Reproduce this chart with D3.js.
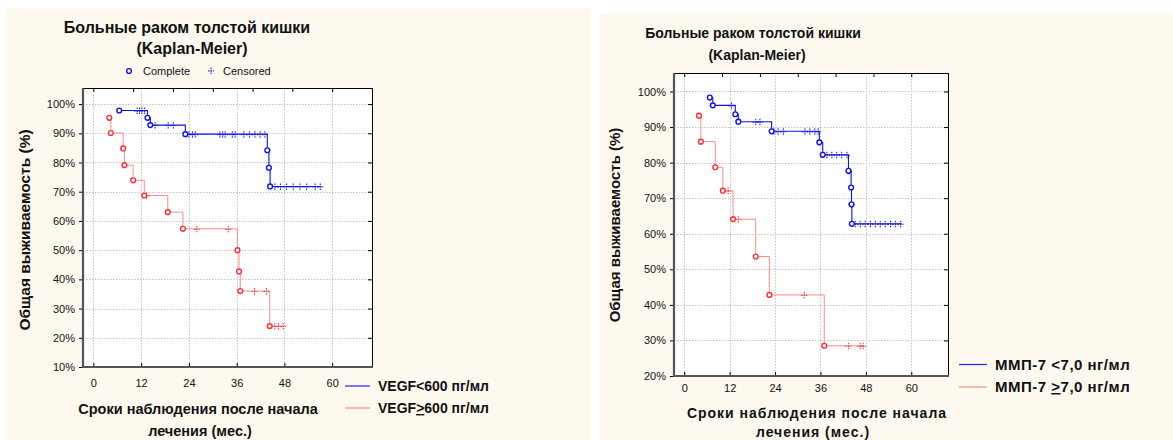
<!DOCTYPE html>
<html><head><meta charset="utf-8">
<script src="https://cdn.jsdelivr.net/npm/d3@7"></script>
<style>
html,body{margin:0;padding:0;background:#fff;}
svg{display:block;font-family:"Liberation Sans",Arial,sans-serif;}
</style></head>
<body>
<svg id="c" width="1173" height="440"></svg>
<script>
// ---------- data ----------
const chartTitle = ["Больные раком толстой кишки", "(Kaplan-Meier)"];
const yAxisTitle = "Общая выживаемость (%)";
const xAxisTitle = ["Сроки наблюдения после начала", "лечения (мес.)"];
const xTicks = [0, 12, 24, 36, 48, 60];
const topTicks = [0, 10, 20, 30, 40, 50, 60];
const leftYTicks = [10, 20, 30, 40, 50, 60, 70, 80, 90, 100];
const rightYTicks = [20, 30, 40, 50, 60, 70, 80, 90, 100];
const markerLegend = ["Complete", "Censored"];

// Left chart: VEGF
const vegfLowLabel = ["VEGF<600 пг/мл"];
const vegfHighLabel = ["VEGF", ">", "600  пг/мл"];
const vegfLowEventT = [6.5, 13.6, 14.3, 23.1, 43.7, 44.1, 44.4];
const vegfLowEventS = [97.8, 95.3, 92.8, 89.7, 84.2, 78.2, 71.8];
const vegfLowCensT = [11.0, 11.6, 12.2, 12.9, 15.5, 18.8, 20.1, 24.0, 24.9, 25.6, 31.8, 32.5, 33.1, 34.9, 35.6, 37.8, 39.2, 40.6, 41.9, 43.1, 45.6, 47.0, 48.5, 50.2, 51.9, 53.6, 55.7, 57.0];
const vegfLowEnd = 57.3;
const vegfHighEventT = [4.0, 4.4, 7.5, 7.8, 10.0, 12.8, 18.7, 22.5, 36.2, 36.6, 36.9, 44.3];
const vegfHighEventS = [95.3, 90.1, 84.8, 79.1, 73.9, 68.7, 63.0, 57.3, 50.0, 42.7, 36.0, 24.0];
const vegfHighCensT = [13.4, 26.0, 33.9, 40.5, 43.5, 45.6, 46.5, 47.7];
const vegfHighEnd = 48.0;

// Right chart: MMP-7
const mmpLowLabel = ["ММП-7 <7,0 нг/мл"];
const mmpHighLabel = ["ММП-7 ", ">", "7,0 нг/мл"];
const mmpLowEventT = [6.75, 7.55, 13.5, 14.3, 23.1, 35.7, 36.6, 43.4, 44.1, 44.2, 44.3];
const mmpLowEventS = [98.3, 96.1, 93.6, 91.5, 88.8, 85.7, 82.2, 77.7, 73.0, 68.3, 62.8];
const mmpLowCensT = [12.5, 18.9, 20.0, 23.7, 24.8, 26.2, 31.9, 33.2, 34.5, 35.4, 37.7, 39.0, 40.3, 41.6, 43.0, 43.6, 44.25, 45.2, 46.5, 47.8, 49.2, 50.5, 51.8, 53.1, 54.5, 55.8, 57.2];
const mmpLowEnd = 57.5;
const mmpHighEventT = [3.9, 4.4, 8.2, 10.2, 12.9, 18.9, 22.5, 37.0];
const mmpHighEventS = [93.2, 85.9, 78.7, 72.1, 64.1, 53.6, 42.8, 28.5];
const mmpHighCensT = [11.6, 14.3, 31.7, 43.4, 46.5, 47.3];
const mmpHighEnd = 47.8;

// ---------- drawing ----------
const svg = d3.select("#c");
const BG = "#fdf9ee";
const BLUE = "#1010f0";
const RED = "#ff3030";
const REDLINE = "#ff8a8a";

function survAt(T, S, t) {
  let s = S[0];
  for (let i = 0; i < T.length; i++) if (T[i] <= t) s = S[i];
  return s;
}

function censorMark(g, x, y, color) {
  g.append("line").attr("x1", x).attr("x2", x).attr("y1", y - 3).attr("y2", y + 4)
    .attr("stroke", color).attr("stroke-width", 1).attr("stroke-dasharray", "1.5,1");
  g.append("line").attr("x1", x - 3).attr("x2", x + 3).attr("y1", y + 0.5).attr("y2", y + 0.5)
    .attr("stroke", color).attr("stroke-width", 1).attr("stroke-dasharray", "1.5,1");
}

function drawChart(cfg) {
  const g = svg.append("g");
  g.append("rect").attr("x", cfg.panel[0]).attr("y", cfg.panel[1])
    .attr("width", cfg.panel[2]).attr("height", cfg.panel[3]).attr("fill", BG);

  const x = d3.scaleLinear().domain(cfg.xDom).range([cfg.left, cfg.right]);
  const y = d3.scaleLinear().domain(cfg.yDom).range([cfg.bottom, cfg.top]);

  g.append("rect").attr("x", cfg.left).attr("y", cfg.top)
    .attr("width", cfg.right - cfg.left).attr("height", cfg.bottom - cfg.top).attr("fill", "#fff");

  // grid
  const grid = g.append("g").attr("stroke", "#c4c4c4").attr("stroke-width", 1).attr("stroke-dasharray", "1.5,1.5");
  cfg.yTicks.forEach(v => {
    if (v === cfg.yDom[0]) return;
    grid.append("line").attr("x1", cfg.left).attr("x2", cfg.right)
      .attr("y1", Math.round(y(v)) + 0.5).attr("y2", Math.round(y(v)) + 0.5);
  });
  xTicks.forEach(v => {
    grid.append("line").attr("y1", cfg.top).attr("y2", cfg.bottom)
      .attr("x1", Math.round(x(v)) + 0.5).attr("x2", Math.round(x(v)) + 0.5);
  });

  // frame (top/right thin black)
  g.append("line").attr("x1", cfg.left).attr("x2", cfg.right).attr("y1", cfg.top + 0.5).attr("y2", cfg.top + 0.5).attr("stroke", "#000");
  g.append("line").attr("x1", cfg.right + 0.5).attr("x2", cfg.right + 0.5).attr("y1", cfg.top).attr("y2", cfg.bottom).attr("stroke", "#000");

  // top ticks (inward)
  const topAxis = d3.axisTop(x).tickValues(topTicks).tickSize(-4).tickFormat("");
  g.append("g").attr("transform", `translate(0,${cfg.top})`).call(topAxis)
    .call(a => a.select(".domain").remove()).selectAll("line").attr("stroke", "#000");
  // right ticks (inward)
  const rightAxis = d3.axisRight(y).tickValues(cfg.yTicks).tickSize(-4).tickFormat("");
  g.append("g").attr("transform", `translate(${cfg.right},0)`).call(rightAxis)
    .call(a => a.select(".domain").remove()).selectAll("line").attr("stroke", "#000");

  // bottom axis
  const bAxis = d3.axisBottom(x).tickValues(xTicks).tickSize(-4).tickPadding(cfg.xTickPad).tickFormat(d3.format("d"));
  const bg = g.append("g").attr("transform", `translate(0,${cfg.bottom})`).call(bAxis);
  bg.select(".domain").remove();
  bg.selectAll("line").attr("stroke", "#000");
  bg.selectAll("text").attr("font-size", 11).attr("fill", "#111").attr("font-family", "Liberation Sans, Arial, sans-serif");

  // left axis
  const lAxis = d3.axisLeft(y).tickValues(cfg.yTicks).tickSize(4).tickPadding(cfg.yTickPad).tickFormat(d => d + "%");
  const lg = g.append("g").attr("transform", `translate(${cfg.left},0)`).call(lAxis);
  lg.select(".domain").remove();
  lg.selectAll("line").attr("stroke", "#000");
  lg.selectAll("text").attr("font-size", 11).attr("fill", "#111").attr("font-family", "Liberation Sans, Arial, sans-serif");

  // thick axis lines
  g.append("line").attr("x1", cfg.left).attr("x2", cfg.left).attr("y1", cfg.top).attr("y2", cfg.bottom + 1)
    .attr("stroke", "#555").attr("stroke-width", 2.2);
  g.append("line").attr("x1", cfg.left).attr("x2", cfg.right + 1).attr("y1", cfg.bottom).attr("y2", cfg.bottom)
    .attr("stroke", "#555").attr("stroke-width", 2);

  // series
  const line = d3.line().x(d => x(d[0])).y(d => y(d[1])).curve(d3.curveStepAfter);
  cfg.series.forEach(s => {
    const pts = s.T.map((t, i) => [t, s.S[i]]);
    pts.push([s.end, s.S[s.S.length - 1]]);
    g.append("path").attr("d", line(pts)).attr("fill", "none")
      .attr("stroke", s.line).attr("stroke-width", s.width);
    s.C.forEach(c => censorMark(g, x(c), y(survAt(s.T, s.S, c)), s.color));
    s.T.forEach((t, i) => {
      g.append("circle").attr("cx", x(t)).attr("cy", y(s.S[i])).attr("r", 2.4)
        .attr("fill", "#fff").attr("stroke", s.color).attr("stroke-width", 1.4);
    });
  });

  // titles
  const tt = g.append("text").attr("text-anchor", "middle").attr("font-weight", "bold")
    .attr("font-size", cfg.titleSize).attr("fill", "#111");
  chartTitle.forEach((t, i) => tt.append("tspan").attr("x", cfg.titleX[i]).attr("y", cfg.titleY[i]).text(t));

  g.append("text").attr("transform", `translate(${cfg.yTitle[0]},${cfg.yTitle[1]}) rotate(-90)`)
    .attr("text-anchor", "middle").attr("font-weight", "bold").attr("font-size", cfg.yTitleSize)
    .attr("fill", "#111").text(yAxisTitle);

  const xt = g.append("text").attr("text-anchor", "middle").attr("font-weight", "bold")
    .attr("font-size", cfg.xTitleSize).attr("letter-spacing", cfg.xTitleSpacing).attr("fill", "#111");
  xAxisTitle.forEach((t, i) => xt.append("tspan").attr("x", cfg.xTitleX[i]).attr("y", cfg.xTitleY[i]).text(t));

  // series legend
  cfg.legend.forEach((L, i) => {
    g.append("line").attr("x1", L.x1).attr("x2", L.x2).attr("y1", L.y).attr("y2", L.y)
      .attr("stroke", L.stroke).attr("stroke-width", 1.2);
    const t = g.append("text").attr("x", L.tx).attr("y", L.y + L.dy).attr("font-weight", "bold")
      .attr("font-size", cfg.legendSize).attr("letter-spacing", cfg.legendSpacing).attr("fill", "#111");
    if (L.text.length === 1) t.text(L.text[0]);
    else {
      t.append("tspan").text(L.text[0]);
      t.append("tspan").style("text-decoration", "underline").text(L.text[1]);
      t.append("tspan").text(L.text[2]);
    }
  });
  return g;
}

const left = drawChart({
  panel: [7, 8, 584, 432],
  left: 83, right: 372, top: 88, bottom: 367,
  xDom: [-2.6, 70], yDom: [10, 105.5], yTicks: leftYTicks,
  xTickPad: 12, yTickPad: 4,
  titleSize: 16, titleX: [187, 192], titleY: [33, 54],
  yTitle: [30, 230], yTitleSize: 15.5,
  xTitleSize: 14.5, xTitleSpacing: 0, xTitleX: [198, 200], xTitleY: [414, 436],
  legendSize: 14, legendSpacing: 0,
  legend: [
    {x1: 345, x2: 370, y: 386, stroke: "#2020ff", tx: 378, dy: 5, text: vegfLowLabel},
    {x1: 345, x2: 370, y: 408, stroke: REDLINE, tx: 378, dy: 5, text: vegfHighLabel}
  ],
  series: [
    {T: vegfLowEventT, S: vegfLowEventS, C: vegfLowCensT, end: vegfLowEnd, color: BLUE, line: "#1010f0", width: 1.1},
    {T: vegfHighEventT, S: vegfHighEventS, C: vegfHighCensT, end: vegfHighEnd, color: RED, line: REDLINE, width: 1}
  ]
});

// Complete / Censored legend (left chart only)
left.append("circle").attr("cx", 129).attr("cy", 71).attr("r", 2.4).attr("fill", "#fff")
  .attr("stroke", BLUE).attr("stroke-width", 1.4);
left.append("text").attr("x", 143).attr("y", 75).attr("font-size", 11).attr("fill", "#111").text(markerLegend[0]);
censorMark(left, 211, 70.5, BLUE);
left.append("text").attr("x", 223).attr("y", 75).attr("font-size", 11).attr("fill", "#111").text(markerLegend[1]);

drawChart({
  panel: [600, 13, 573, 427],
  left: 674, right: 948, top: 73, bottom: 376,
  xDom: [-2.7, 69.7], yDom: [20, 105.2], yTicks: rightYTicks,
  xTickPad: 8, yTickPad: 4,
  titleSize: 14, titleX: [753, 757], titleY: [38, 60],
  yTitle: [620, 225], yTitleSize: 15,
  xTitleSize: 14, xTitleSpacing: 1, xTitleX: [817, 813], xTitleY: [418, 437],
  legendSize: 15, legendSpacing: 0.5,
  legend: [
    {x1: 959, x2: 987, y: 364.5, stroke: "#2020ff", tx: 995, dy: 5, text: mmpLowLabel},
    {x1: 959, x2: 987, y: 387, stroke: REDLINE, tx: 995, dy: 5, text: mmpHighLabel}
  ],
  series: [
    {T: mmpLowEventT, S: mmpLowEventS, C: mmpLowCensT, end: mmpLowEnd, color: BLUE, line: "#1010f0", width: 1.1},
    {T: mmpHighEventT, S: mmpHighEventS, C: mmpHighCensT, end: mmpHighEnd, color: RED, line: REDLINE, width: 1}
  ]
});
</script>
</body></html>
